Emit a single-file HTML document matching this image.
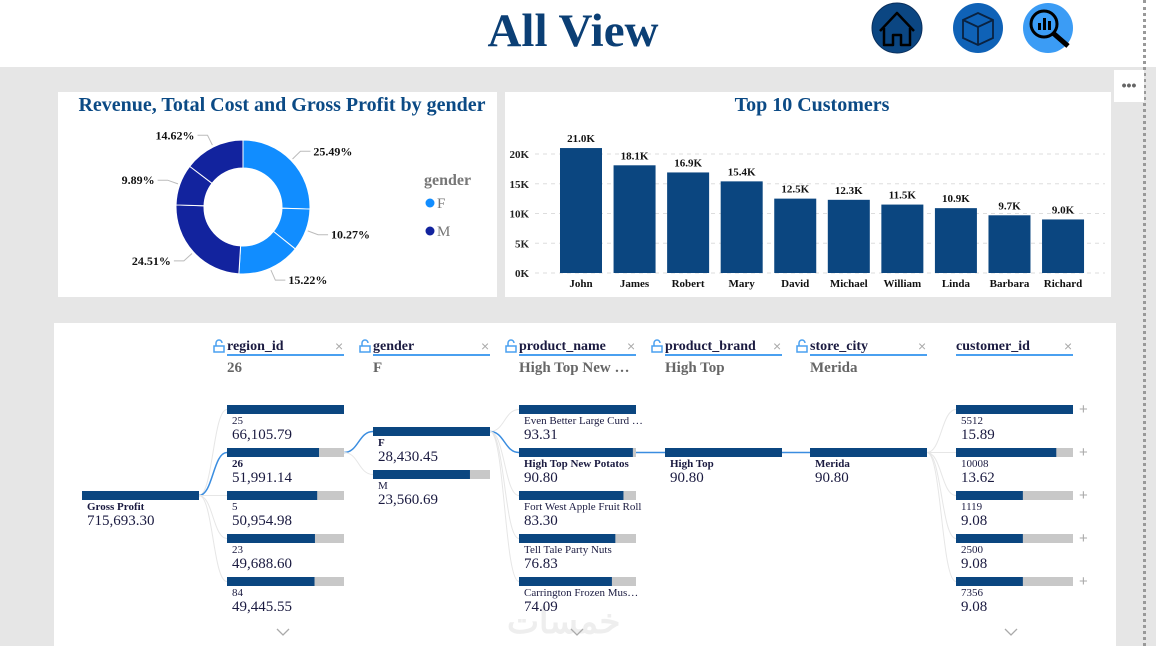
<!DOCTYPE html>
<html><head><meta charset="utf-8"><style>
body{margin:0;width:1156px;height:646px;overflow:hidden;background:#e6e6e6;font-family:"Liberation Serif",serif;position:relative}
.abs{position:absolute}
</style></head><body>
<div class="abs" style="left:0;top:0;width:1156px;height:67px;background:#fff"></div>
<div class="abs" style="left:400px;top:4px;width:346px;text-align:center;font:bold 47px 'Liberation Serif',serif;color:#0b3f75">All View</div>
<svg class="abs" style="left:0;top:0" width="1156" height="67">
 <g><circle cx="897" cy="28" r="25" fill="#0b4682" stroke="#0a2f5c"/><path d="M880 31 L897 13 L914 31 M884 28 V45 H893 V35 H901 V45 H910 V28" fill="none" stroke="#000" stroke-width="2.5" stroke-linejoin="round"/></g>
 <g><circle cx="978" cy="28" r="25" fill="#0f62b7"/><path d="M963 20 L978 13 L993 20 L993 38 L978 45 L963 38 Z M963 20 L978 27 L993 20 M978 27 V45" fill="none" stroke="#0a2240" stroke-width="1.8"/></g>
 <g><circle cx="1048" cy="28" r="25" fill="#3b9cf5"/><circle cx="1044" cy="24" r="13" fill="none" stroke="#000" stroke-width="3"/><path d="M1053 33 L1068 46" stroke="#000" stroke-width="5"/><rect x="1038" y="23" width="3" height="7"/><rect x="1043" y="18" width="3" height="12"/><rect x="1048" y="21" width="3" height="9"/></g>
</svg>
<div class="abs" style="left:1143px;top:0;width:3px;height:646px;border-left:3px dotted #999"></div>
<div class="abs" style="left:1114px;top:70px;width:30px;height:32px;background:#fff;color:#666;font:bold 14px 'Liberation Sans',sans-serif;text-align:center;line-height:30px">•••</div>

<div class="abs" style="left:58px;top:92px;width:439px;height:205px;background:#fff"></div>
<svg class="abs" style="left:0;top:0" width="1156" height="646" id="donut">
 <text x="282" y="111" text-anchor="middle" font-weight="bold" font-size="20" fill="#0b4a85">Revenue, Total Cost and Gross Profit by gender</text>
 <text x="424" y="185" font-weight="bold" font-size="16" fill="#777">gender</text>
 <g><circle cx="430" cy="203" r="4.5" fill="#118dff"/><text x="437" y="208" font-size="15" fill="#777">F</text></g>
 <g><circle cx="430" cy="231" r="4.5" fill="#12239e"/><text x="437" y="236" font-size="15" fill="#777">M</text></g>
</svg>

<div class="abs" style="left:505px;top:92px;width:606px;height:205px;background:#fff"></div>
<svg class="abs" style="left:0;top:0" width="1156" height="646" id="bars">
 <text x="812" y="111" text-anchor="middle" font-weight="bold" font-size="20" fill="#0b4a85">Top 10 Customers</text>
</svg>

<div class="abs" style="left:54px;top:323px;width:1062px;height:323px;background:#fff"></div>
<svg class="abs" style="left:0;top:0" width="1156" height="646" id="tree">
 <text x="507" y="633" font-family="'Liberation Sans',sans-serif" font-size="34" font-weight="bold" fill="#eeeeee">خمسات</text>
</svg>

<script>
const NS="http://www.w3.org/2000/svg";
function mk(p,t,a){const e=document.createElementNS(NS,t);for(const k in a)e.setAttribute(k,a[k]);p.appendChild(e);return e;}
// ---- donut data
const donutLabels=["25.49%","10.27%","15.22%","24.51%","9.89%","14.62%"];
const donutValues=[25.49,10.27,15.22,24.51,9.89,14.62];
const donutGender=["F","F","F","M","M","M"];
// ---- bar data
const customers=["John","James","Robert","Mary","David","Michael","William","Linda","Barbara","Richard"];
const customerValues=[21.0,18.1,16.9,15.4,12.5,12.3,11.5,10.9,9.7,9.0];
const yTicks=[0,5,10,15,20];
// ---- tree data
const treeHeaders=["region_id","gender","product_name","product_brand","store_city","customer_id"];
const treeSelected=["26","F","High Top New …","High Top","Merida",""];
const rootLabel="Gross Profit"; const rootValue=715693.30;
const regionNames=["25","26","5","23","84"];
const regionValues=[66105.79,51991.14,50954.98,49688.60,49445.55];
const genderNames=["F","M"];
const genderValues=[28430.45,23560.69];
const productNames=["Even Better Large Curd …","High Top New Potatos","Fort West Apple Fruit Roll","Tell Tale Party Nuts","Carrington Frozen Mus…"];
const productValues=[93.31,90.80,83.30,76.83,74.09];
const brandNames=["High Top"]; const brandValues=[90.80];
const cityNames=["Merida"]; const cityValues=[90.80];
const customerIds=["5512","10008","1119","2500","7356"];
const customerIdValues=[15.89,13.62,9.08,9.08,9.08];

// donut
(function(){
 const s=document.getElementById('donut');const cx=243,cy=207,R=67,r=39;
 const tot=donutValues.reduce((a,b)=>a+b,0);let a0=0;
 donutValues.forEach((v,i)=>{
  const a1=a0+v/tot*2*Math.PI;
  const p=(a,rr)=>[cx+rr*Math.sin(a),cy-rr*Math.cos(a)];
  const [x0,y0]=p(a0,R),[x1,y1]=p(a1,R),[x2,y2]=p(a1,r),[x3,y3]=p(a0,r);const lg=a1-a0>Math.PI?1:0;
  const sl=mk(s,'path',{d:`M${x0} ${y0}A${R} ${R} 0 ${lg} 1 ${x1} ${y1}L${x2} ${y2}A${r} ${r} 0 ${lg} 0 ${x3} ${y3}Z`,fill:donutGender[i]=="F"?"#118dff":"#12239e",stroke:"#fff","stroke-width":1});
  
  
  const m=(a0+a1)/2;const [lx,ly]=p(m,69),[ex,ey]=p(m,80);const right=Math.sin(m)>0;const tx=ex+(right?10:-10);
  const ln=mk(s,'polyline',{points:`${lx},${ly} ${ex},${ey} ${tx},${ey}`,fill:"none",stroke:"#bbb"});
  
  
  const t=mk(s,'text',{x:tx+(right?3:-3),y:ey+4,"text-anchor":right?"start":"end","font-size":12,"font-weight":"bold",fill:"#111"});
  t.textContent=donutLabels[i];
  
  
  a0=a1;});
})();

// bars
(function(){
 const s=document.getElementById('bars');const y0=273,pxPerK=(273-154)/20;const x0=581,step=53.56,bw=42;
 const Y=v=>y0-v*pxPerK;
 yTicks.forEach(t=>{
  const g=mk(s,'line',{x1:535,x2:1105,y1:Y(t),y2:Y(t),stroke:"#ddd","stroke-dasharray":"4 4"});
  
  
  const tt=mk(s,'text',{x:529,y:Y(t)+4,"text-anchor":"end","font-size":11,"font-weight":"bold",fill:"#222"});tt.textContent=t+"K";
  
  });
 customers.forEach((c,i)=>{const cx=x0+i*step,v=customerValues[i];
  const b=mk(s,'rect',{x:cx-bw/2,y:Y(v),width:bw,height:v*pxPerK,fill:"#0b4680"});
  
  
  const l=mk(s,'text',{x:cx,y:Y(v)-6,"text-anchor":"middle","font-size":11,"font-weight":"bold",fill:"#111"});l.textContent=v.toFixed(1)+"K";
  
  
  const xl=mk(s,'text',{x:cx,y:287,"text-anchor":"middle","font-size":11,"font-weight":"bold",fill:"#111"});xl.textContent=c;
  
  });
})();

// tree
(function(){
 const s=document.getElementById('tree');const W=117,H=9;
 const colX=[82,227,373,519,665,810,956];const rowY=[405,448,491,534,577];
 const fmt=v=>v.toLocaleString('en-US',{minimumFractionDigits:2,maximumFractionDigits:2});
 treeHeaders.forEach((h,i)=>{const x=colX[i+1];
  if(i<5){const lk=mk(s,'path',{d:`M${x-13} ${352}h10v-6h-10z M${x-11} ${346}v-3a3 3 0 0 1 6 0`,fill:"none",stroke:"#4aa0f0","stroke-width":1.5});
   
   }
  const t=mk(s,'text',{x:x,y:350,"font-size":14,"font-weight":"bold",fill:"#1a1a40"});t.textContent=h;
  
  
  const u=mk(s,'line',{x1:x,x2:x+W,y1:355,y2:355,stroke:"#4aa0f0","stroke-width":2});
  
  
  const xx=mk(s,'text',{x:x+W-9,y:351,"font-size":14,fill:"#aaa","font-family":"'Liberation Sans',sans-serif"});xx.textContent="×";
  
  
  const sv=mk(s,'text',{x:x,y:372,"font-size":15,"font-weight":"bold",fill:"#666"});sv.textContent=treeSelected[i];
  
  });
 function node(x,y,name,val,max,bold,nm){
  const bg=mk(s,'rect',{x:x,y:y,width:W,height:H,fill:"#c8c8c8"});
  
  
  const b=mk(s,'rect',{x:x,y:y,width:W*val/max,height:H,fill:"#0b4680"});
  
  
  const t=mk(s,'text',{x:x+5,y:y+19,"font-size":11,"font-weight":bold?"bold":"normal",fill:"#1a1a40"});t.textContent=name;
  
  
  const v=mk(s,'text',{x:x+5,y:y+34,"font-size":15,fill:"#1a1a40"});v.textContent=fmt(val);
  
  }
 function link(x1,y1,x2,y2,sel){const m=(x1+x2)/2;
  const p=mk(s,'path',{d:`M${x1} ${y1+4.5}C${m} ${y1+4.5} ${m} ${y2+4.5} ${x2} ${y2+4.5}`,fill:"none",stroke:sel?"#3a8de0":"#e6e6e6","stroke-width":sel?1.5:1});
  
  }
 const levels=[
  {names:regionNames,vals:regionValues,rows:rowY,sel:1,col:1},
  {names:genderNames,vals:genderValues,rows:[427,470],sel:0,col:2},
  {names:productNames,vals:productValues,rows:rowY,sel:1,col:3},
  {names:brandNames,vals:brandValues,rows:[448],sel:0,col:4},
  {names:cityNames,vals:cityValues,rows:[448],sel:0,col:5},
  {names:customerIds,vals:customerIdValues,rows:rowY,sel:-1,col:6}];
 let px=colX[0]+W,py=491;
 levels.forEach(L=>{const x=colX[L.col];L.rows.forEach((y,i)=>link(px,py,x,y,i===L.sel));let ny=py;
  L.rows.forEach((y,i)=>{if(i===L.sel)ny=y;});
  const mx=Math.max(...L.vals);
  L.rows.forEach((y,i)=>{node(x,y,L.names[i],L.vals[i],mx,i===L.sel,'node-'+L.col+'-'+i);
   if(L.col===6){const pl=mk(s,'text',{x:x+W+6,y:y+9,"font-size":15,fill:"#aaa","font-family":"'Liberation Sans',sans-serif"});pl.textContent="+";
    
    }});
  px=x+W;py=ny;});
 node(colX[0],491,rootLabel,rootValue,rootValue,true,'root');
 [283,577,1011].forEach(cx=>{const c=mk(s,'polyline',{points:`${cx-6},629 ${cx},635 ${cx+6},629`,fill:"none",stroke:"#aaa","stroke-width":1.3});
  
  });
})();
</script>
</body></html>
